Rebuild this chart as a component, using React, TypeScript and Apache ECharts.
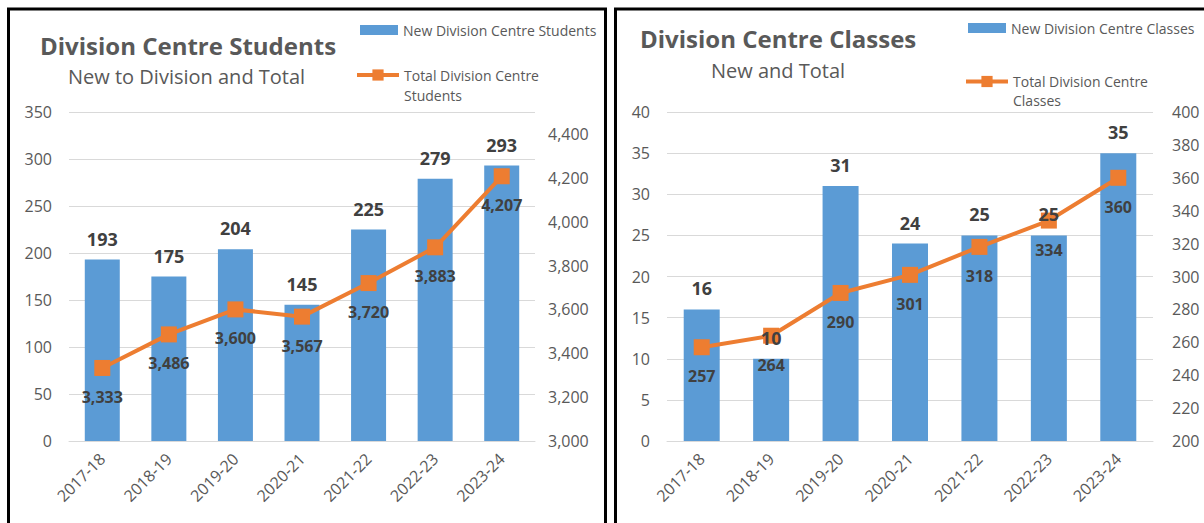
import React, { useEffect, useRef } from "react";
import * as echarts from "echarts";

const categories = ["2017-18", "2018-19", "2019-20", "2020-21", "2021-22", "2022-23", "2023-24"];
const newStudents = [193, 175, 204, 145, 225, 279, 293];
const totalStudents = [3333, 3486, 3600, 3567, 3720, 3883, 4207];
const newClasses = [16, 10, 31, 24, 25, 25, 35];
const totalClasses = [257, 264, 290, 301, 318, 334, 360];

const studentsLeftAxis = { min: 0, max: 350, interval: 50 };
const studentsRightAxis = { min: 3000, max: 4500, interval: 200 };
const classesLeftAxis = { min: 0, max: 40, interval: 5 };
const classesRightAxis = { min: 200, max: 400, interval: 20 };

const BLUE = "#5B9BD5";
const ORANGE = "#ED7D31";
const GRAY = "#595959";
const DARK = "#404040";
const FONT = "Open Sans";

const fmt = (v: number) => Number(v).toLocaleString("en-US");

export default function App() {
  const ref = useRef<HTMLDivElement>(null);
  useEffect(() => {
    if (!ref.current) return;
    const chart = echarts.init(ref.current, undefined, { renderer: "svg" });

    const xAxisBase = (gridIndex: number) => ({
      type: "category",
      gridIndex,
      data: categories,
      axisTick: { show: false },
      axisLine: { lineStyle: { color: "#D9D9D9", width: 1 } },
      axisLabel: { rotate: 45, color: GRAY, fontSize: 16, fontFamily: FONT, margin: 15 },
    });
    const leftY = (gridIndex: number, ax: any) => ({
      type: "value",
      gridIndex,
      position: "left",
      min: ax.min,
      max: ax.max,
      interval: ax.interval,
      axisLine: { show: false },
      axisTick: { show: false },
      splitLine: { lineStyle: { color: "#D9D9D9", width: 1 } },
      axisLabel: { color: GRAY, fontSize: 16, fontFamily: FONT, margin: 17 },
    });
    const rightY = (gridIndex: number, ax: any, margin: number) => ({
      type: "value",
      gridIndex,
      position: "right",
      min: ax.min,
      max: ax.max,
      interval: ax.interval,
      axisLine: { show: false },
      axisTick: { show: false },
      splitLine: { show: false },
      axisLabel: {
        color: GRAY,
        fontSize: 16,
        fontFamily: FONT,
        margin,
        showMaxLabel: ax.max % ax.interval === 0 ? true : false,
        formatter: (v: number) => fmt(v),
      },
    });

    const barLabel = { show: true, position: "top", distance: 12, fontSize: 18, fontWeight: "bold", color: DARK, fontFamily: FONT };
    const lineLabel = {
      show: true,
      position: "bottom",
      distance: 13,
      fontSize: 16,
      fontWeight: "bold",
      color: DARK,
      fontFamily: FONT,
      formatter: (p: any) => fmt(p.value),
    };

    const makeSeries = (xi: number, yl: number, yr: number, barName: string, lineName: string, bars: number[], line: number[], bw: number) => [
      {
        type: "bar",
        name: barName,
        xAxisIndex: xi,
        yAxisIndex: yl,
        data: bars,
        barWidth: bw,
        barGap: "-100%",
        itemStyle: { color: BLUE },
        z: 2,
      },
      {
        type: "line",
        name: lineName,
        xAxisIndex: xi,
        yAxisIndex: yr,
        data: line,
        symbol: "rect",
        symbolSize: 16,
        lineStyle: { color: ORANGE, width: 4 },
        itemStyle: { color: ORANGE },
        label: lineLabel,
        z: 3,
      },
      {
        type: "bar",
        name: barName + " labels",
        xAxisIndex: xi,
        yAxisIndex: yl,
        data: bars,
        barWidth: bw,
        barGap: "-100%",
        itemStyle: { color: "rgba(0,0,0,0)" },
        label: barLabel,
        silent: true,
        z: 5,
      },
    ];

    const legendText = { color: GRAY, fontSize: 14, fontFamily: FONT, lineHeight: 20 };
    const lineLegend = (name: string, text: string, left: number, top: number, lh: number) => ({
      data: [name],
      left,
      top,
      padding: 0,
      itemWidth: 42,
      itemHeight: 14,
      lineStyle: { width: 4, color: ORANGE },
      itemStyle: { color: ORANGE },
      formatter: () => text,
      textStyle: { ...legendText, lineHeight: lh },
    });

    chart.setOption({
      animation: false,
      textStyle: { fontFamily: FONT },
      title: [
        { text: "Division Centre Students", left: 40, top: 30, padding: 0, textStyle: { fontSize: 24, fontWeight: "bold", color: GRAY, fontFamily: FONT, lineHeight: 30 } },
        { text: "New to Division and Total", left: 68, top: 64, padding: 0, textStyle: { fontSize: 20, fontWeight: "normal", color: GRAY, fontFamily: FONT, lineHeight: 24 } },
        { text: "Division Centre Classes", left: 640, top: 23, padding: 0, textStyle: { fontSize: 24, fontWeight: "bold", color: GRAY, fontFamily: FONT, lineHeight: 30 } },
        { text: "New and Total", left: 711, top: 58, padding: 0, textStyle: { fontSize: 20, fontWeight: "normal", color: GRAY, fontFamily: FONT, lineHeight: 24 } },
      ],
      legend: [
        { data: ["New Division Centre Students"], left: 360, top: 20, padding: 0, icon: "rect", itemWidth: 38, itemHeight: 10, textStyle: legendText },
        lineLegend("Total Division Centre Students", "\nTotal Division Centre\nStudents", 355, 45, 20),
        { data: ["New Division Centre Classes"], left: 968, top: 18, padding: 0, icon: "rect", itemWidth: 38, itemHeight: 10, textStyle: legendText },
        lineLegend("Total Division Centre Classes", "\nTotal Division Centre\nClasses", 964, 53, 19),
      ],
      grid: [
        { left: 69, right: 669, top: 112, bottom: 82 },
        { left: 667, right: 51, top: 112, bottom: 82 },
      ],
      xAxis: [xAxisBase(0), xAxisBase(1)],
      yAxis: [
        leftY(0, studentsLeftAxis),
        rightY(0, studentsRightAxis, 13),
        leftY(1, classesLeftAxis),
        rightY(1, classesRightAxis, 19),
      ],
      series: [
        ...makeSeries(0, 0, 1, "New Division Centre Students", "Total Division Centre Students", newStudents, totalStudents, 35),
        ...makeSeries(1, 2, 3, "New Division Centre Classes", "Total Division Centre Classes", newClasses, totalClasses, 36),
      ],
      graphic: [
        { type: "rect", shape: { x: 8.5, y: 9, width: 597, height: 600 }, style: { fill: "none", stroke: "#000", lineWidth: 3 }, silent: true },
        { type: "rect", shape: { x: 615.5, y: 9, width: 700, height: 600 }, style: { fill: "none", stroke: "#000", lineWidth: 3 }, silent: true },
      ],
    });
    return () => chart.dispose();
  }, []);
  return <div ref={ref} style={{ position: "absolute", left: 0, top: 0, width: 1204, height: 523, background: "#fff" }} />;
}
